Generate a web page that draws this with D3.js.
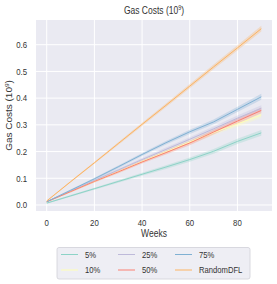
<!DOCTYPE html>
<html><head><meta charset="utf-8">
<script src="https://cdn.jsdelivr.net/npm/d3@7"></script>
<style>body{margin:0;background:#fff}svg{display:block}text{font-family:"Liberation Sans",Arial,sans-serif;fill:#333}</style>
</head><body><svg id="c" width="277" height="284"></svg>
<script>
const weeks = [0,10,20,30,40,50,60,70,80,90];
const seriesNames = ["5%","10%","25%","50%","75%","RandomDFL"];
const colors = ["#8dd3c7","#ffffb3","#bebada","#fb8072","#80b1d3","#fdb462"];
const s5 =   [0.007,0.034,0.061,0.088,0.115,0.142,0.170,0.201,0.238,0.270];
const s10 =  [0.012,0.050,0.088,0.125,0.163,0.199,0.236,0.271,0.303,0.337];
const s25 =  [0.012,0.052,0.092,0.131,0.170,0.208,0.246,0.285,0.325,0.362];
const s50 =  [0.012,0.050,0.088,0.124,0.161,0.196,0.232,0.273,0.314,0.354];
const s75 =  [0.012,0.055,0.098,0.143,0.189,0.233,0.274,0.311,0.358,0.405];
const sRnd = [0.015,0.087,0.158,0.230,0.302,0.373,0.445,0.517,0.588,0.660];
const ciHalf = [0.002,0.003,0.004,0.005,0.006,0.007,0.008,0.009,0.010,0.011];
const yTicks = [0.0,0.1,0.2,0.3,0.4,0.5,0.6];
const xTicks = [0,20,40,60,80];
const allSeries = [s5,s10,s25,s50,s75,sRnd];

const svg = d3.select("#c");
const L=36,R=272,T=20,B=211;
const x = d3.scaleLinear().domain([-4.5,94.5]).range([L,R]);
const y = d3.scaleLinear().domain([-0.0225,0.6925]).range([B,T]);
const SX = 0.85;

svg.append("rect").attr("x",L).attr("y",T).attr("width",R-L).attr("height",B-T).attr("fill","#eaeaf2");
svg.append("g").selectAll("line").data(yTicks).join("line")
  .attr("x1",L).attr("x2",R).attr("y1",d=>y(d)).attr("y2",d=>y(d)).attr("stroke","#fff").attr("stroke-width",1);
svg.append("g").selectAll("line").data(xTicks).join("line")
  .attr("y1",T).attr("y2",B).attr("x1",d=>x(d)).attr("x2",d=>x(d)).attr("stroke","#fff").attr("stroke-width",1);

function txt(str,px,py,size,anchor,rot){
  const t = svg.append("text").attr("transform",`translate(${px},${py}) scale(${SX},1)`+(rot?` rotate(${rot})`:""))
    .attr("font-size",size).attr("text-anchor",anchor||"middle");
  return t;
}
yTicks.forEach(v=>txt("",27,y(v)+3.3,9.2,"end").text(v.toFixed(1)));
xTicks.forEach(v=>txt("",x(v),226,9.2,"middle").text(v));

const area = d3.area().x((d,i)=>x(weeks[i])).y0((d,i)=>y(d-ciHalf[i])).y1((d,i)=>y(d+ciHalf[i]));
const line = d3.line().x((d,i)=>x(weeks[i])).y(d=>y(d));
allSeries.forEach((s,k)=>{
  svg.append("path").attr("d",area(s)).attr("fill",colors[k]).attr("opacity",0.3);
});
allSeries.forEach((s,k)=>{
  svg.append("path").attr("d",line(s)).attr("fill","none").attr("stroke",colors[k]).attr("stroke-width",1);
});

// title
const tt = txt("",154,14,10,"middle");
tt.append("tspan").text("Gas Costs (10");
tt.append("tspan").attr("dy",-4).attr("font-size",6.5).text("9");
tt.append("tspan").attr("dy",4).text(")");
// y label
const yl = txt("",12,115.5,10,"middle",-90);
yl.append("tspan").text("Gas Costs (10");
yl.append("tspan").attr("dy",-4).attr("font-size",6.5).text("9");
yl.append("tspan").attr("dy",4).text(")");
// x label
txt("",154,237,10,"middle").text("Weeks");

// legend
svg.append("rect").attr("x",57).attr("y",247.5).attr("width",193).attr("height",31.5).attr("rx",2)
  .attr("fill","#eeeef4").attr("stroke","#d0d0d8").attr("stroke-width",0.8);
const colX=[61,118,175], rowY=[254.5,270];
seriesNames.forEach((n,k)=>{
  const c=Math.floor(k/2), r=k%2;
  svg.append("line").attr("x1",colX[c]).attr("x2",colX[c]+17).attr("y1",rowY[r]).attr("y2",rowY[r])
    .attr("stroke",colors[k]).attr("stroke-width",1);
  txt("",colX[c]+24,rowY[r]+3.2,9,"start").text(n);
});
</script></body></html>
